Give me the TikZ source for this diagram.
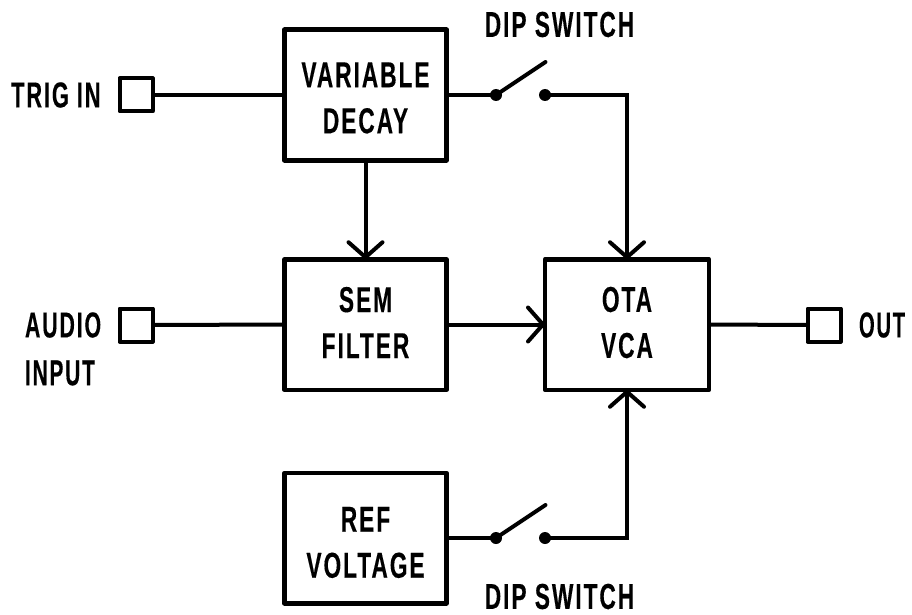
\documentclass[tikz,border=0pt]{standalone}
\usepackage{fontspec}
\usepackage{graphicx}
\usetikzlibrary{arrows.meta}
\newfontfamily\labfont[FakeStretch=0.63,LetterSpace=5.5,FakeBold=0.3]{Liberation Sans Bold}
\newcommand{\lineshift}[2]{\raisebox{#1}[\height][\depth]{#2}}
\tikzset{
  x=1pt,y=-1pt,
  txt/.style={font=\labfont\fontsize{36}{46}\selectfont,inner sep=0pt,outer sep=0pt,text=black},
  blockbox/.style={txt,draw=black,line width=4.5pt,line join=round,minimum width=162pt,minimum height=130.5pt,align=center},
  jack/.style={draw=black,line width=4pt,line join=round,minimum width=33pt,minimum height=33pt,inner sep=0pt,outer sep=0pt},
  contact/.style={circle,fill=black,minimum size=12pt,inner sep=0pt,outer sep=0pt},
  wire/.style={line width=4pt,draw=black},
  arm/.style={line width=4pt,draw=black,line cap=round},
  flow/.style={wire,-{Straight Barb[length=15pt,width=34pt,line width=4pt,round]}},
}
\begin{document}
\begin{tikzpicture}
\useasboundingbox (0,0) rectangle (912,615);
\node[blockbox] (decay) at (365.5,95) {\lineshift{-3pt}{VARIABLE}\\\lineshift{-3pt}{DECAY}};
\node[blockbox] (sem) at (365.5,324.5) {\lineshift{2pt}{SEM}\\\lineshift{2pt}{FILTER}};
\node[blockbox,minimum width=164pt] (ota) at (627,324.5) {\lineshift{2pt}{OTA}\\\lineshift{2pt}{VCA}};
\node[blockbox] (ref) at (365.5,538) {\lineshift{-4.5pt}{REF}\\\lineshift{-4.5pt}{VOLTAGE}};
\node[jack] (trig) at (136,95) {};
\node[jack] (audio) at (136,325) {};
\node[jack] (out) at (824,325) {};
\node[txt,anchor=east] (ltrig) at (100.5,95) {\scalebox{.96}[1]{TRIG IN}};
\node[txt,anchor=west] (laudio) at (25,325) {\scalebox{.94}[1]{AUDIO}};
\node[txt,anchor=west] (linput) at (25,373) {\scalebox{.92}[1]{INPUT}};
\node[txt,anchor=west] (lout) at (859,325) {\scalebox{.89}[1]{OUT}};
\node[txt] (dip1) at (559.5,24.5) {DIP SWITCH};
\node[txt] (dip2) at (559.5,596.5) {DIP SWITCH};
\node[contact] (s1a) at (496,95) {};
\node[contact] (s1b) at (545,95) {};
\node[contact] (s2a) at (496,538) {};
\node[contact] (s2b) at (545,538) {};
\coordinate (s1t) at (545.5,62);
\coordinate (s2t) at (545.5,505);
\draw[wire] (trig.east) -- (decay.west);
\draw[wire] (audio.east) -- (sem.west);
\draw[wire] (ota.east) -- (out.west);
\draw[wire] (decay.east) -- (s1a.center);
\draw[wire] (ref.east) -- (s2a.center);
\draw[arm] (s1a.center) -- (s1t);
\draw[arm] (s2a.center) -- (s2t);
\draw[flow] (decay.south) -- (sem.north);
\draw[flow] (sem.east) -- (ota.west);
\draw[flow] (s1b.center) -| (ota.north);
\draw[flow] (s2b.center) -| (ota.south);
\end{tikzpicture}
\end{document}
